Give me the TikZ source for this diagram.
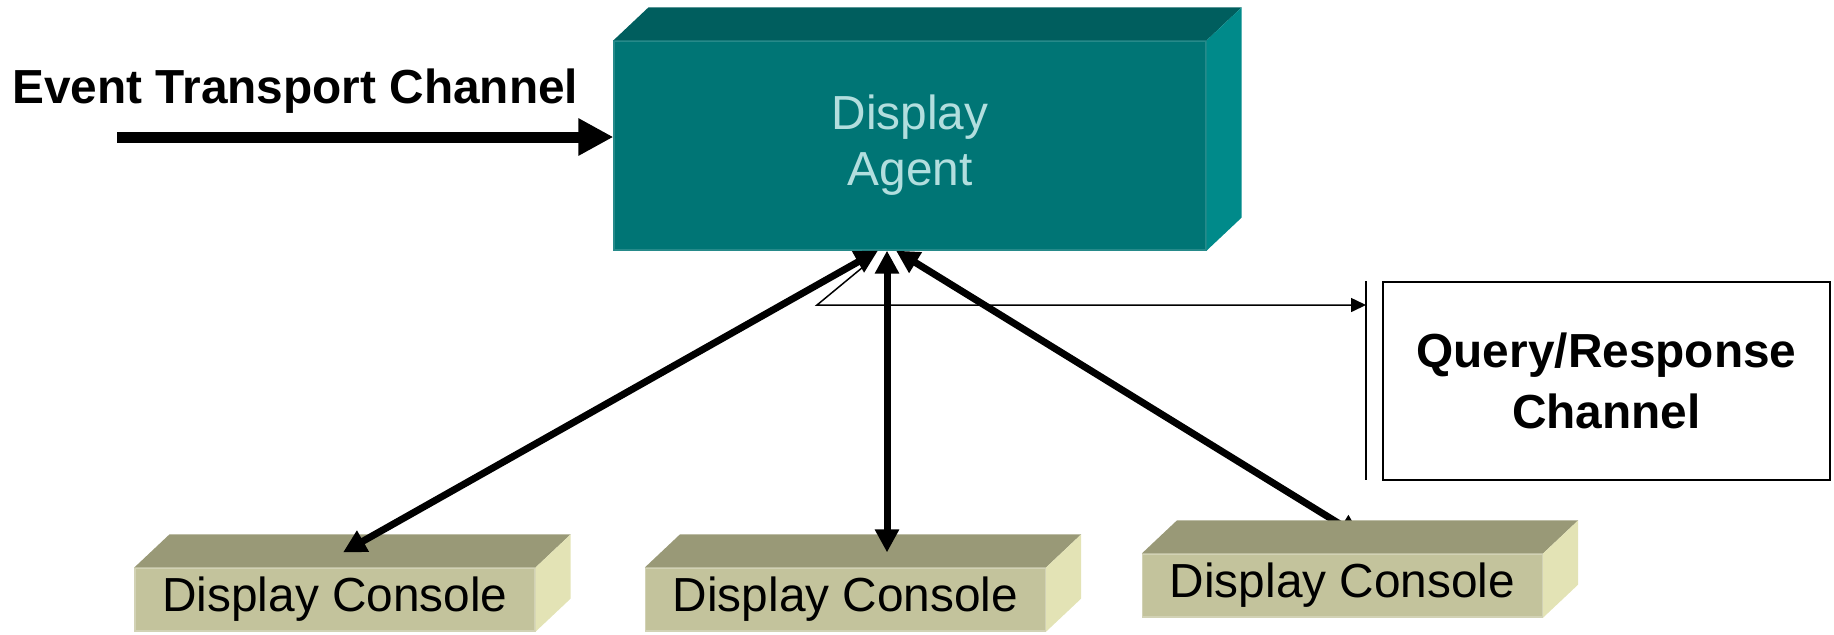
\documentclass[tikz,border=0pt]{standalone}
\usepackage{fontspec}
\setmainfont{Liberation Sans}
\usetikzlibrary{arrows.meta,backgrounds}

\definecolor{agentfront}{RGB}{0,117,117}
\definecolor{agenttop}{RGB}{0,94,94}
\definecolor{agentside}{RGB}{0,138,138}
\definecolor{agenttext}{RGB}{178,222,222}
\definecolor{consfront}{RGB}{195,195,156}
\definecolor{constop}{RGB}{153,153,119}
\definecolor{consside}{RGB}{227,227,181}

% top and right faces of a block, drawn from its front node
\newcommand{\boxfaces}[3]{%
  \fill[#2] (#1.north west) -- ++(35,33) -- ([shift={(35,33)}]#1.north east) -- (#1.north east) -- cycle;
  \fill[#3] (#1.north east) -- ++(35,33) -- ([shift={(35,33)}]#1.south east) -- (#1.south east) -- cycle;
}

\tikzset{
  bigfont/.style={font=\fontsize{23.9pt}{28pt}\selectfont},
  agentbox/.style={rectangle, fill=agentfront, draw=agentfront!85!white, line width=0.6pt,
    minimum width=296pt, minimum height=104.5pt, text=agenttext, align=center, bigfont},
  consolebox/.style={rectangle, fill=consfront, draw=consfront!75!white, line width=0.6pt,
    minimum width=200pt, minimum height=31.5pt, inner sep=0pt, bigfont},
  querybox/.style={rectangle, draw, line width=0.75pt, minimum width=223.5pt, minimum height=99pt,
    align=center, font=\fontsize{23.9pt}{30.5pt}\selectfont\bfseries},
  link/.style={line width=3.5pt, {Triangle[length=11.5pt,width=11.5pt]}-{Triangle[length=11.5pt,width=11.5pt]}},
  thinline/.style={line width=0.75pt},
}

\begin{document}
\begin{tikzpicture}[x=0.5pt, y=0.5pt]
\useasboundingbox (0,0) rectangle (1834,-634);

% Agent block
\node[agentbox] (agent) at (910,-145.5) {Display\\Agent};
\boxfaces{agent}{agenttop}{agentside}

% Event transport input
\node[anchor=base west, inner sep=0pt, font=\fontsize{23.9pt}{28pt}\selectfont\bfseries] (evlabel) at (12,-103) {Event Transport Channel};
\coordinate (evin) at (117,-137);
\draw[line width=5.5pt, -{Triangle[length=17.5pt,width=17.5pt]}] (evin) -- (evin -| agent.west);

% Consoles
\node[consolebox] (c1) at (335,-599.5) {Display Console};
\boxfaces{c1}{constop}{consside}
\node[consolebox] (c2) at (845.5,-599.5) {Display Console};
\boxfaces{c2}{constop}{consside}
\node[consolebox] (c3) at (1342.5,-585.5) {Display Console};
\boxfaces{c3}{constop}{consside}

% Links agent <-> consoles
\draw[link] ([xshift=-16pt]agent.south) -- ([shift={(8,15)}]c1.north);
\draw[link] ([xshift=-11.5pt]agent.south) -- ([shift={(41.5,15)}]c2.north);
\begin{scope}[on background layer]
\draw[link] ([xshift=-7pt]agent.south) -- ([shift={(19,16)}]c3.north);
\end{scope}

% Query/response channel
\node[querybox] (query) at (1606.5,-381) {Query/Response\\Channel};
\coordinate (bartop) at (1366,-281);
\coordinate (barbot) at (1366,-480);
\draw[thinline] (bartop) -- (barbot);
\coordinate (qfrom) at (863,-267);
\coordinate (qbend) at (817,-305);
\draw[thinline, -{Triangle[length=7.5pt,width=7pt]}] (qfrom) -- (qbend) -- (qbend -| bartop);

\end{tikzpicture}
\end{document}
